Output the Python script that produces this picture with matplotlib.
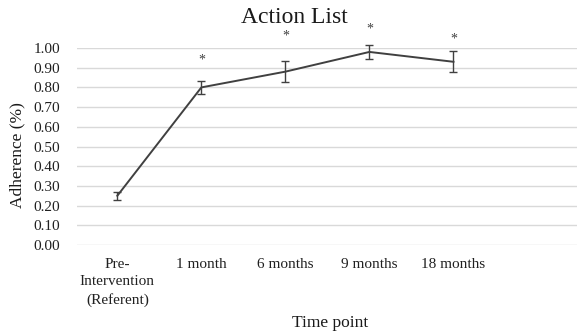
import matplotlib
matplotlib.use('Agg')
from matplotlib import pyplot as plt

# adherence by time point, with error bar half-widths
timepoints = ['Pre-\nIntervention\n(Referent)', '1 month', '6 months', '9 months', '18 months']
adherence = [0.25, 0.80, 0.88, 0.98, 0.93]
errors = [0.02, 0.035, 0.053, 0.035, 0.053]
# significance markers drawn above points (None = no marker)
star_y = [None, 0.94, 1.06, 1.095, 1.045]
yticks = [0.0, 0.1, 0.2, 0.3, 0.4, 0.5, 0.6, 0.7, 0.8, 0.9, 1.0]

plt.rcParams['font.family'] = ['Liberation Serif', 'DejaVu Serif']

fig = plt.figure(figsize=(5.77, 3.33), dpi=100)
ax = fig.add_axes([77/577, 88/333, 500/577, 197/333])

x = list(range(len(timepoints)))
ax.errorbar(x, adherence, yerr=errors, color='#404040', lw=1.4,
            ecolor='#404040', elinewidth=1.0, capsize=3, capthick=1.0, clip_on=False, zorder=3)

for xi, sy in zip(x, star_y):
    if sy is not None:
        ax.text(xi, sy, '*', ha='center', va='center', fontsize=10, color='#404040')

ax.set_xlim(-0.48, 5.47)
ax.set_ylim(0, 1.0)
ax.set_yticks(yticks)
ax.set_yticklabels(['{:.2f}'.format(v) for v in yticks], fontsize=11)
ax.set_xticks(x)
ax.set_xticklabels(timepoints, fontsize=11, linespacing=1.45)
ax.tick_params(axis='both', length=0, colors='#202020')
ax.tick_params(axis='y', pad=12)
ax.tick_params(axis='x', pad=9)
ax.grid(axis='y', color='#d9d9d9', lw=1.0)
ax.set_axisbelow(True)
for s in ax.spines.values():
    s.set_visible(False)

fig.text(294/577, 1 - 23/333, 'Action List', ha='center', va='baseline', fontsize=17, color='#1a1a1a')
fig.text(330/577, 1 - 323/333, 'Time point', ha='center', va='center', fontsize=12.5, color='#1a1a1a')
fig.text(17/577, 1 - 155/333, 'Adherence (%)', ha='center', va='center', rotation=90, fontsize=12.5, color='#1a1a1a')

fig.savefig('out.png', dpi=100)
